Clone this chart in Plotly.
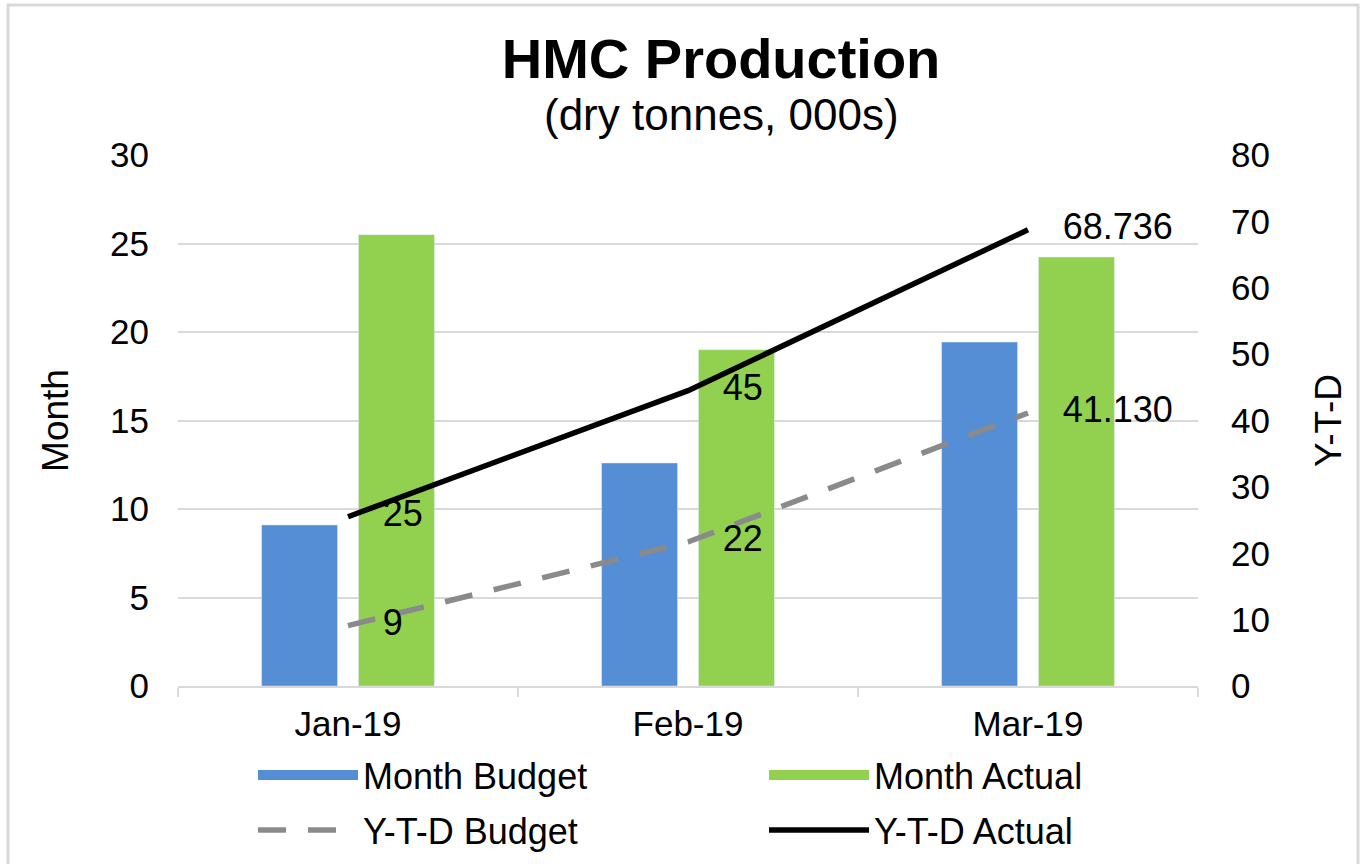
import plotly.graph_objects as go

months = ["Jan-19", "Feb-19", "Mar-19"]
month_budget = [9.1, 12.6, 19.43]
month_actual = [25.5, 19.0, 24.236]
ytd_budget = [9.1, 21.7, 41.13]
ytd_actual = [25.5, 44.5, 68.736]
ytd_budget_labels = ["9", "22", "41.130"]
ytd_actual_labels = ["25", "45", "68.736"]

BLUE = "#558ED5"
GREEN = "#92D050"
GRAY = "#8A8A8A"
GRID = "#D9D9D9"
FONT = "Liberation Sans, Arial, sans-serif"
CLEAR = "rgba(0,0,0,0)"

fig = go.Figure()
fig.add_trace(go.Bar(x=months, y=month_budget, name="Month Budget", marker_color=BLUE,
                     showlegend=False, yaxis="y"))
fig.add_trace(go.Bar(x=months, y=month_actual, name="Month Actual", marker_color=GREEN,
                     showlegend=False, yaxis="y"))
# legend swatches for bars (wide rectangles like the reference)
fig.add_trace(go.Scatter(x=[None], y=[None], mode="lines", name="Month Budget",
                         line=dict(color=BLUE, width=17), legend="legend"))
fig.add_trace(go.Scatter(x=[None], y=[None], mode="lines", name="Month Actual",
                         line=dict(color=GREEN, width=17), legend="legend"))
fig.add_trace(go.Scatter(x=months, y=ytd_budget, name="Y-T-D Budget", yaxis="y2",
                         mode="lines+markers+text", text=ytd_budget_labels,
                         textposition="middle right",
                         textfont=dict(size=36, color="black", family=FONT),
                         marker=dict(size=54, color=CLEAR, line=dict(width=0)),
                         line=dict(color=GRAY, width=5.5, dash="28px,22px"),
                         legend="legend2"))
fig.add_trace(go.Scatter(x=months, y=ytd_actual, name="Y-T-D Actual", yaxis="y2",
                         mode="lines+markers+text", text=ytd_actual_labels,
                         textposition="middle right",
                         textfont=dict(size=36, color="black", family=FONT),
                         marker=dict(size=54, color=CLEAR, line=dict(width=0)),
                         line=dict(color="black", width=5.5),
                         legend="legend2"))

L, R, T, B = 178, 1361 - 1198, 155, 864 - 686
PW, PH = 1361 - L - R, 864 - T - B

def px_x(p):
    return (p - L) / PW

def px_y(p):
    return (864 - B - p) / PH

legend_common = dict(orientation="h", xanchor="left", yanchor="middle",
                     entrywidth=396, entrywidthmode="pixels", itemwidth=100,
                     font=dict(size=36), traceorder="normal", bgcolor=CLEAR)

fig.update_layout(
    width=1361, height=864,
    margin=dict(l=L, r=R, t=T, b=B, pad=0, autoexpand=False),
    paper_bgcolor="white", plot_bgcolor="white",
    font=dict(family=FONT, size=35, color="black"),
    barmode="group", bargap=0.43, bargroupgap=0.216,
    title=dict(text="<b>HMC Production</b>", x=721 / 1361, xanchor="center",
               y=1 - 58 / 864, yanchor="middle",
               font=dict(size=56, family=FONT, color="black")),
    xaxis=dict(type="category", showgrid=False, showline=True, linecolor=GRID, linewidth=2,
               ticks="outside", tickson="boundaries", ticklen=9, tickcolor=GRID, tickwidth=2,
               tickfont=dict(size=35), ticklabelstandoff=6),
    yaxis=dict(range=[0, 30], dtick=5, showgrid=True, gridcolor=GRID, gridwidth=2,
               zeroline=False, showline=False, tickfont=dict(size=35),
               ticklabelstandoff=28,
               title=dict(text="Month", font=dict(size=37), standoff=30)),
    yaxis2=dict(range=[0, 80], dtick=10, overlaying="y", side="right", showgrid=False,
                zeroline=False, showline=False, tickfont=dict(size=35),
                ticklabelstandoff=32,
                title=dict(text="Y-T-D", font=dict(size=37), standoff=46)),
    legend=dict(x=px_x(253), y=px_y(775), **legend_common),
    legend2=dict(x=px_x(253), y=px_y(830), **legend_common),
    annotations=[dict(text="(dry tonnes, 000s)", xref="paper", yref="paper",
                      x=px_x(721), y=px_y(114), xanchor="center", yanchor="middle",
                      showarrow=False, font=dict(size=44, family=FONT, color="black"))],
    shapes=[dict(type="rect", xref="paper", yref="paper",
                 x0=px_x(8), x1=px_x(1358), y0=px_y(1000), y1=px_y(5),
                 line=dict(color=GRID, width=3), fillcolor="rgba(0,0,0,0)", layer="below")],
)

fig.write_html("out.html", config={"displayModeBar": False},
               post_script="document.body.style.margin='0';")
